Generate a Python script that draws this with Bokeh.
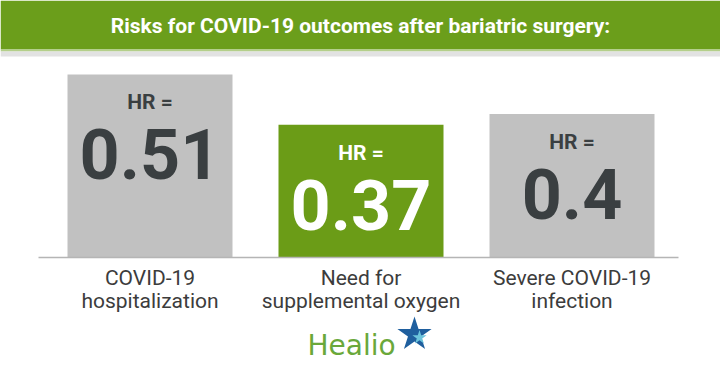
from bokeh.plotting import figure
from bokeh.models import Range1d, BoxAnnotation, Label
from bokeh.core.properties import value
from bokeh.embed import file_html
from bokeh.resources import INLINE

# ---- data ----
title = "Risks for COVID-19 outcomes after bariatric surgery:"
categories = ["COVID-19\nhospitalization", "Need for\nsupplemental oxygen", "Severe COVID-19\ninfection"]
hr_values = [0.51, 0.37, 0.4]
hr_labels = ["0.51", "0.37", "0.4"]
bar_colors = ["#c1c1c1", "#6b9c17", "#c1c1c1"]
num_colors = ["#3a3f41", "#ffffff", "#3a3f41"]
hr_colors = ["#3a3f41", "#ffffff", "#3a3f41"]

W, H = 720, 378
BASE_PX = 257.0      # pixel row of value 0
PX_PER_UNIT = 359.0  # pixels per HR unit
X0_PX = 149.5        # pixel of first category centre
STEP_PX = 211.0      # pixels between category centres


def py(pix):
    return (BASE_PX - pix) / PX_PER_UNIT


def px(pix):
    return (pix - X0_PX) / STEP_PX


p = figure(width=W, height=H, output_backend="svg", toolbar_location=None,
           x_range=Range1d(px(0), px(W)), y_range=Range1d(py(H), py(0)),
           min_border=0, min_border_left=0, min_border_right=0,
           min_border_top=0, min_border_bottom=0)
p.axis.visible = False
p.grid.visible = False
p.outline_line_color = None
p.background_fill_color = "white"
p.border_fill_color = "white"

# header band
p.add_layout(BoxAnnotation(top=py(0), bottom=py(49), fill_color="#6b9e1b", fill_alpha=1, line_color=None, level="underlay"))
p.add_layout(BoxAnnotation(top=py(49), bottom=py(51), fill_color="#b4cf8a", fill_alpha=1, line_color=None, level="underlay"))
p.add_layout(BoxAnnotation(top=py(51), bottom=py(56), fill_color="#e2e2e2", fill_alpha=1, line_color=None, level="underlay"))
p.add_layout(Label(x=px(W / 2), y=py(25), text=title, text_align="center", text_baseline="middle",
                   text_font="Roboto", text_font_style="bold", text_font_size="21px", text_color="white"))

xs = list(range(len(categories)))

# bars
p.vbar(x=xs, top=hr_values, bottom=0, width=165 / STEP_PX, color=bar_colors, line_color=None)

# baseline
p.segment(x0=[px(38)], x1=[px(678)], y0=[0], y1=[0], line_color="#b5b5b5", line_width=1.5)

# HR = labels
p.text(x=xs, y=hr_values, text=["HR ="] * len(xs), y_offset=28, text_align="center",
       text_baseline="middle", text_font=value("Roboto"), text_font_style="bold",
       text_font_size="21px", text_color=hr_colors)

# values
p.text(x=xs, y=hr_values, text=hr_labels, y_offset=80, text_align="center",
       text_baseline="middle", text_font=value("Roboto"), text_font_style="bold",
       text_font_size="70px", text_color=num_colors)

# category labels
line1 = [c.split("\n")[0] for c in categories]
line2 = [c.split("\n")[1] for c in categories]
zeros = [0] * len(xs)
p.text(x=xs, y=zeros, text=line1, y_offset=20, text_align="center", text_baseline="middle",
       text_font=value("Roboto"), text_font_size="21px", text_color="#3c3c3c")
p.text(x=xs, y=zeros, text=line2, y_offset=43, text_align="center", text_baseline="middle",
       text_font=value("Roboto"), text_font_size="21px", text_color="#3c3c3c")

# Healio logo
p.add_layout(Label(x=px(307), y=py(345), text="Healio", text_align="left", text_baseline="middle",
                   text_font="DejaVu Sans", text_font_size="28px", text_color="#6aa83a"))
p.scatter(x=[px(414)], y=[py(334)], marker="star", size=36, fill_color="#1f5f9e", line_color=None)
p.scatter(x=[px(419)], y=[py(337)], marker="star", size=15, fill_color="#6cc4dc", line_color=None)

open("out.html", "w").write(file_html(p, INLINE))
